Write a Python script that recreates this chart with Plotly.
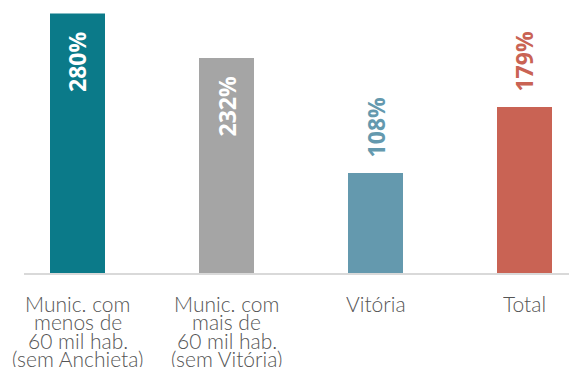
import plotly.graph_objects as go

# Categories (each line of the axis label is a separate entry)
category_lines = [
    ["Munic. com", "menos de", "60 mil hab.", "(sem Anchieta)"],
    ["Munic. com", "mais de", "60 mil hab.", "(sem Vitória)"],
    ["Vitória"],
    ["Total"],
]
values = [280, 232, 108, 179]
bar_colors = ["#0b7a89", "#a5a5a5", "#6499ae", "#c96354"]
label_inside = [True, True, False, False]

W, H = 569, 371
M_L, M_R, M_T, M_B = 24, 0, 0, 98
plot_h = H - M_T - M_B
px_per_cat = 149.0
first_center_px = 77.5
x0 = -(first_center_px - M_L) / px_per_cat
x1 = x0 + (W - M_L - M_R) / px_per_cat
px_per_unit = 0.927
y_max = plot_h / px_per_unit

xs = list(range(len(values)))

fig = go.Figure(
    go.Bar(
        x=xs,
        y=values,
        marker=dict(color=bar_colors, line=dict(width=0)),
        width=55 / px_per_cat,
        hoverinfo="skip",
    )
)

annotations = []
# value labels, rotated
for i, (v, c, inside) in enumerate(zip(values, bar_colors, label_inside)):
    annotations.append(dict(
        x=i, y=v, xref="x", yref="y",
        text=f"{v}%",
        textangle=-90,
        showarrow=False,
        xanchor="center",
        yanchor="top" if inside else "bottom",
        yshift=-17 if inside else 13,
        font=dict(family="Open Sans", size=23, color="white" if inside else c, weight=700),
    ))

# category labels, one annotation per line for tight line spacing
line_gap = 18.5
first_line_center = 302.5
for i, lines in enumerate(category_lines):
    for j, txt in enumerate(lines):
        cy = first_line_center + j * line_gap
        annotations.append(dict(
            x=i, y=0, xref="x", yref="paper",
            text=txt, showarrow=False,
            xanchor="center", yanchor="middle",
            height=18, valign="middle",
            yshift=-(cy - (M_T + plot_h)),
            font=dict(family="Lato Light, Lato", size=21, color="#555555", weight=300),
        ))

fig.update_layout(
    width=W, height=H,
    margin=dict(l=M_L, r=M_R, t=M_T, b=M_B),
    paper_bgcolor="white", plot_bgcolor="white",
    showlegend=False,
    xaxis=dict(range=[x0, x1], showticklabels=False, ticks="", showgrid=False,
               zeroline=False, showline=True, linecolor="#d9d9d9", linewidth=2,
               fixedrange=True),
    yaxis=dict(range=[0, y_max], visible=False, showgrid=False, zeroline=False,
               fixedrange=True),
    annotations=annotations,
)

fig.write_html("out.html", config={"displayModeBar": False})
